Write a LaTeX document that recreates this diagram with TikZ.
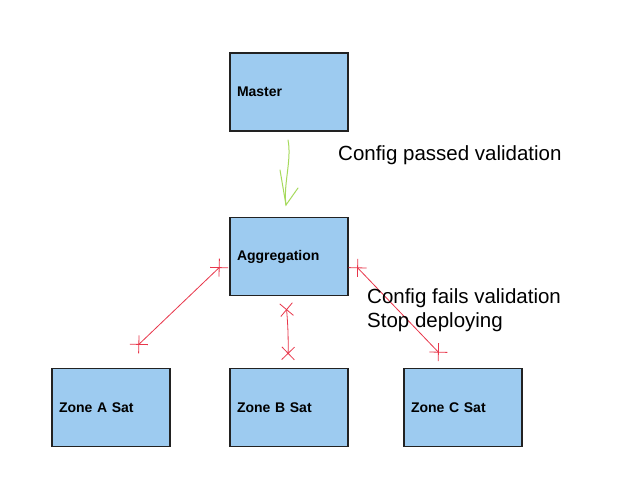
\documentclass[tikz,border=0pt]{standalone}
\usepackage{fontspec}
\setmainfont{Liberation Sans}
\usetikzlibrary{arrows.meta}
\definecolor{boxFill}{HTML}{9DCBF0}
\definecolor{boxLine}{HTML}{222222}
\definecolor{failLine}{HTML}{E8364A}
\definecolor{passLine}{HTML}{A6DA5C}

\tikzset{
  zonebox/.style={rectangle, draw=boxLine, line width=1.2pt, fill=boxFill,
    minimum width=118pt, minimum height=78pt, text width=104pt, inner xsep=7pt,
    align=left, font=\fontsize{14}{16}\selectfont\bfseries},
  faillink/.style={failLine, line width=0.8pt,
    {Rays[n=4,length=18pt,width=18pt]}-{Rays[n=4,length=18pt,width=18pt]}},
  note/.style={anchor=west, inner sep=0pt, align=left, font=\fontsize{20.5}{24}\selectfont}
}

\begin{document}
\begin{tikzpicture}[x=1pt, y=-1pt]
  \useasboundingbox[fill=white] (0,0) rectangle (627,500);
  \node[zonebox] (master) at (289,92) {Master};
  \node[zonebox] (agg) at (289,256.5) {Aggregation};
  \node[zonebox] (zoneA) at (111,407.5) {Zone A Sat};
  \node[zonebox] (zoneB) at (289,407.5) {Zone B Sat};
  \node[zonebox] (zoneC) at (463,407.5) {Zone C Sat};
  % link end points
  \coordinate (aggA) at (224,263);
  \coordinate (aggB) at (286,303);
  \coordinate (aggC) at (353,263);
  \coordinate (topA) at (134,349);
  \coordinate (topB) at (288,360);
  \coordinate (topC) at (443,357);
  \coordinate (passTop) at (288,140);
  \coordinate (passEnd) at (286,205);
  \draw[faillink] (topA) -- (aggA);
  \draw[faillink] (aggB) to[bend left=3] (topB);
  \draw[faillink] (aggC) -- (topC);
  \draw[passLine, line width=1pt, line cap=round] (passTop) .. controls (292,160) and (283,185) .. (passEnd);
  \draw[passLine, line width=1pt, line cap=round] (280,170) -- (passEnd) -- (298,188);
  \node[note] (passNote) at (338,155) {Config passed validation};
  \node[note] (failNote) at (367,310) {Config fails validation\\Stop deploying};
\end{tikzpicture}
\end{document}
